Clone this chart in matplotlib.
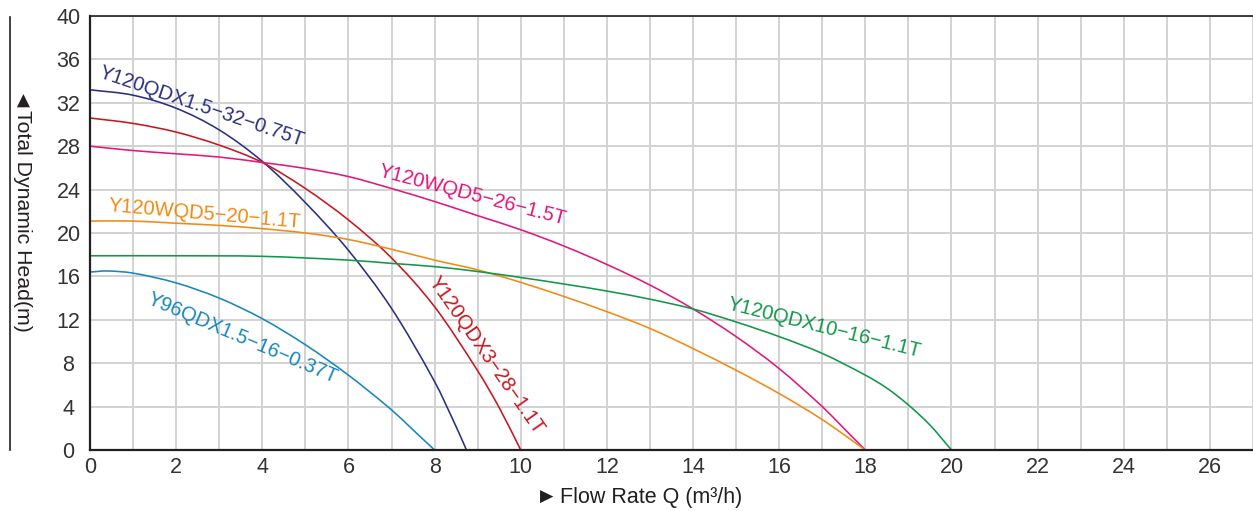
import matplotlib
matplotlib.use("Agg")
from matplotlib import pyplot as plt
from matplotlib.lines import Line2D
from matplotlib.path import Path
from matplotlib.patches import PathPatch

plt.rcParams['font.family'] = ['Liberation Sans', 'DejaVu Sans']

# pump curves, flow rate Q (m3/h) vs total dynamic head (m)
navy_q = [0, 1, 2, 3, 4, 5, 6, 7, 8, 8.5, 8.74]
navy_h = [33.2, 32.7, 31.5, 29.5, 26.6, 22.8, 18.4, 13.05, 6.3, 2.15, 0]

red_q = [0, 1, 2, 3, 4, 5, 6, 7, 8, 9, 9.5, 10]
red_h = [30.6, 30.1, 29.3, 28.1, 26.5, 24.1, 21.2, 17.7, 13.2, 7.3, 3.9, 0]

pink_q = [0, 1, 2, 3, 4, 5, 6, 7, 8, 9, 10, 11, 12, 13, 14, 15, 16, 17, 17.5, 18]
pink_h = [28.0, 27.6, 27.3, 27.0, 26.5, 25.95, 25.2, 24.1, 22.9, 21.6, 20.3, 18.8,
          17.1, 15.2, 13.0, 10.45, 7.5, 4.0, 2.0, 0]

orange_q = [0, 1, 2, 3, 4, 5, 6, 7, 8, 9, 10, 11, 12, 13, 14, 15, 16, 17, 18]
orange_h = [21.1, 21.1, 20.9, 20.7, 20.4, 20.0, 19.4, 18.5, 17.5, 16.6, 15.45, 14.15,
            12.75, 11.2, 9.35, 7.35, 5.2, 2.8, 0]

green_q = [0, 2, 4, 6, 7, 8, 9, 10, 11, 12, 13, 14, 15, 16, 17, 18, 18.5, 19, 19.5, 20]
green_h = [17.9, 17.9, 17.85, 17.5, 17.2, 16.9, 16.45, 15.9, 15.3, 14.65, 13.9, 13.0,
           11.8, 10.45, 8.9, 6.9, 5.7, 4.15, 2.3, 0]

cyan_q = [0, 0.4, 1, 2, 3, 4, 5, 6, 7, 7.5, 8]
cyan_h = [16.4, 16.5, 16.3, 15.4, 14.0, 12.1, 9.7, 6.9, 3.7, 1.85, 0]

colors = {'navy': '#2a2f82', 'red': '#c8161e', 'pink': '#e2177c',
          'orange': '#f28a12', 'green': '#109848', 'cyan': '#1787bd'}


def smooth_curve(ax, q, h, color):
    # draw a smooth bezier path through the read points
    n = len(q)
    slopes = []
    for i in range(n):
        if i == 0:
            slopes.append((h[1] - h[0]) / (q[1] - q[0]))
        elif i == n - 1:
            slopes.append((h[-1] - h[-2]) / (q[-1] - q[-2]))
        else:
            slopes.append((h[i + 1] - h[i - 1]) / (q[i + 1] - q[i - 1]))
    verts = [(q[0], h[0])]
    codes = [Path.MOVETO]
    for i in range(n - 1):
        d = (q[i + 1] - q[i]) / 3
        verts += [(q[i] + d, h[i] + slopes[i] * d),
                  (q[i + 1] - d, h[i + 1] - slopes[i + 1] * d),
                  (q[i + 1], h[i + 1])]
        codes += [Path.CURVE4] * 3
    ax.add_patch(PathPatch(Path(verts, codes), fill=False, edgecolor=color, lw=1.15))


fig = plt.figure(figsize=(12.53, 5.11), dpi=100)
ax = fig.add_axes([90/1253, 1-450/511, 1163/1253, 434/511])

smooth_curve(ax, navy_q, navy_h, colors['navy'])
smooth_curve(ax, red_q, red_h, colors['red'])
smooth_curve(ax, pink_q, pink_h, colors['pink'])
smooth_curve(ax, orange_q, orange_h, colors['orange'])
smooth_curve(ax, green_q, green_h, colors['green'])
smooth_curve(ax, cyan_q, cyan_h, colors['cyan'])

# curve labels
kw = dict(fontsize=14.5, ha='left', va='baseline', rotation_mode='anchor')
ax.text(0.19, 34.4, "Y120QDX1.5−32−0.75T", color=colors['navy'], rotation=-18.7, **kw)
ax.text(6.68, 25.25, "Y120WQD5−26−1.5T", color=colors['pink'], rotation=-14.6, **kw)
ax.text(0.42, 22.0, "Y120WQD5−20−1.1T", color=colors['orange'], rotation=-5, **kw)
ax.text(1.30, 13.55, "Y96QDX1.5−16−0.37T", color=colors['cyan'], rotation=-23, **kw)
ax.text(7.84, 15.5, "Y120QDX3−28−1.1T", color=colors['red'], rotation=-55, **kw)
ax.text(14.78, 13.0, "Y120QDX10−16−1.1T", color=colors['green'], rotation=-14, **kw)

ax.set_xlim(0, 27)
ax.set_ylim(0, 40)
ax.set_xticks(range(0, 27, 2))
ax.set_xticks(range(0, 28), minor=True)
ax.set_yticks(range(0, 41, 4))
ax.grid(True, which='both', color='#d2d2d2', lw=1.4)
ax.set_axisbelow(True)
ax.tick_params(which='both', length=0, labelsize=15.5, labelcolor='#333333')
ax.tick_params(axis='x', pad=5)
ax.tick_params(axis='y', pad=15.5)
for lab in ax.get_yticklabels():
    lab.set_horizontalalignment('center')

for side in ['left', 'bottom']:
    ax.spines[side].set_linewidth(1.6)
    ax.spines[side].set_color('#231f20')
ax.spines['top'].set_linewidth(1.2)
ax.spines['top'].set_color('#231f20')
ax.spines['right'].set_visible(False)

# axis titles with small arrow marks
fig.text(22/1253, 1-100/511, "◀", rotation=270, ha='center', va='center',
         fontsize=12.5, color='#231f20')
fig.text(22/1253, 1-221/511, "Total Dynamic Head(m)", rotation=270,
         ha='center', va='center', fontsize=15.3, color='#231f20')
fig.text(547/1253, 1-497/511, "▶", ha='center', va='center',
         fontsize=12.5, color='#231f20')
fig.text(651/1253, 1-497/511, "Flow Rate Q (m³/h)",
         ha='center', va='center', fontsize=15.5, color='#231f20')
fig.add_artist(Line2D([10/1253, 10/1253], [1-17/511, 1-450/511],
                      transform=fig.transFigure, color='#231f20', lw=1.2))

fig.savefig('out.png', dpi=100)
